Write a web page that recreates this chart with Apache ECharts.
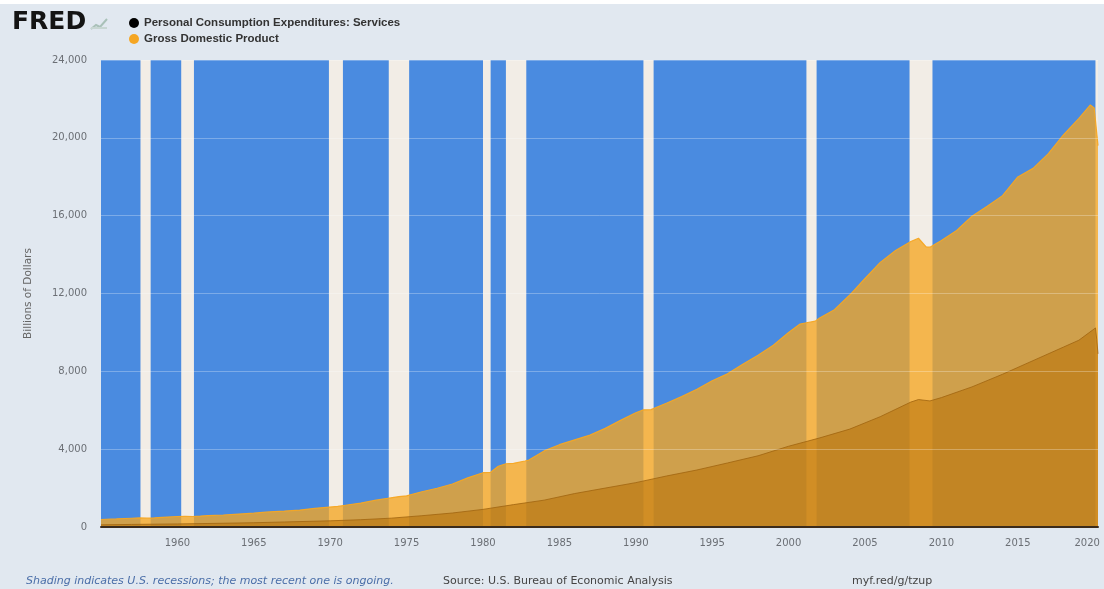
<!DOCTYPE html>
<html><head><meta charset="utf-8">
<script src="https://cdn.jsdelivr.net/npm/echarts@6/dist/echarts.min.js"></script>
<style>html,body{margin:0;padding:0;background:#e1e8f0;}#c{width:1104px;height:589px;}</style>
</head><body><div id="c"></div>
<script>
// ---- data (billions of dollars, SAAR) ----
const gdpDates = ['1955-01','1956-01','1957-01','1957-07','1958-01','1958-07','1959-01','1960-01','1960-07','1961-01','1961-07','1962-01','1963-01','1964-01','1965-01','1966-01','1967-01','1968-01','1969-01','1969-10','1970-07','1971-01','1972-01','1973-01','1973-10','1974-07','1975-01','1976-01','1977-01','1978-01','1979-01','1980-01','1980-07','1981-01','1981-07','1982-01','1982-10','1983-01','1984-01','1985-01','1986-01','1987-01','1988-01','1989-01','1990-01','1990-07','1991-01','1992-01','1993-01','1994-01','1995-01','1996-01','1997-01','1998-01','1999-01','2000-01','2000-10','2001-04','2001-10','2002-01','2003-01','2004-01','2005-01','2006-01','2007-01','2008-01','2008-07','2009-01','2009-04','2010-01','2011-01','2012-01','2013-01','2014-01','2015-01','2016-01','2017-01','2018-01','2019-01','2019-10','2020-01','2020-04'];
const gdpValues = [386,414,450,464,454,470,497,540,542,540,563,589,617,663,709,773,818,871,960,1013,1059,1118,1230,1378,1467,1565,1600,1810,1990,2210,2525,2790,2810,3120,3250,3270,3390,3440,3910,4230,4480,4720,5070,5480,5870,6020,6030,6360,6700,7080,7520,7870,8360,8830,9340,10000,10430,10510,10580,10730,11170,11920,12770,13600,14210,14670,14840,14400,14380,14720,15240,15970,16480,17030,17990,18430,19190,20160,21000,21690,21540,19600];

const pceDates = ['1955-01','1957-01','1960-01','1962-01','1965-01','1967-01','1970-01','1972-01','1974-01','1976-01','1978-01','1980-01','1982-01','1984-01','1986-01','1988-01','1990-01','1992-01','1994-01','1996-01','1998-01','2000-01','2002-01','2004-01','2006-01','2008-01','2008-07','2009-04','2010-01','2012-01','2014-01','2016-01','2018-01','2019-01','2020-02','2020-03','2020-04'];
const pceValues = [112,132,158,180,220,258,318,375,455,580,720,905,1150,1380,1720,2000,2280,2620,2930,3290,3660,4150,4570,5030,5670,6420,6550,6480,6650,7200,7850,8550,9250,9600,10230,9650,8900];

const recessionStarts = ['1957-08','1960-04','1969-12','1973-11','1980-01','1981-07','1990-07','2001-03','2007-12','2020-02'];
const recessionEnds   = ['1958-04','1961-02','1970-11','1975-03','1980-07','1982-11','1991-03','2001-11','2009-06','2020-04'];

const xTickYears = [1960,1965,1970,1975,1980,1985,1990,1995,2000,2005,2010,2015,2020];
const yTickValues = [0,4000,8000,12000,16000,20000,24000];

const seriesNames = ['Personal Consumption Expenditures: Services','Gross Domestic Product'];

// ---- helpers ----
function toYear(s){ const [y,m] = s.split('-').map(Number); return y + (m-1)/12; }
const gdpData = gdpDates.map((d,i)=>[toYear(d), gdpValues[i]]);
const pceData = pceDates.map((d,i)=>[toYear(d), pceValues[i]]);
const recessionAreas = recessionStarts.map((s,i)=>[{xAxis: toYear(s)},{xAxis: Math.min(toYear(recessionEnds[i]), 2020.25)}]);
const lastTick = xTickYears[xTickYears.length-1];

const chart = echarts.init(document.getElementById('c'), null, {renderer:'canvas'});
const F = 'DejaVu Sans';
chart.setOption({
  backgroundColor: '#e1e8f0',
  animation: false,
  grid: { left: 101, right: 6, top: 60, bottom: 62, show: true, backgroundColor: '#4a8be0', borderWidth: 0, outerBoundsMode: 'none', containLabel: false },
  legend: {
    data: seriesNames, orient: 'vertical', left: 124, top: 12, icon: 'circle',
    itemWidth: 10, itemHeight: 10, itemGap: 4,
    textStyle: { fontFamily: 'Liberation Sans', fontWeight: 'bold', fontSize: 11.5, color: '#333' },
    selectedMode: false
  },
  xAxis: {
    type: 'value', min: 1955, max: 2020.25, interval: 5, z: 10,
    axisLine: { show: true, lineStyle: { color: '#3b2b1b', width: 2 } },
    axisTick: { show: false },
    splitLine: { show: false },
    axisLabel: { showMinLabel: false, showMaxLabel: false, margin: 11, fontFamily: F, fontSize: 10, color: '#6b6f75',
      formatter: v => xTickYears.includes(v) ? (v === lastTick ? '{e|' + v + '}' : String(v)) : '',
      rich: { e: { fontFamily: F, fontSize: 10, color: '#6b6f75', padding: [0, 14, 0, 0] } } }
  },
  yAxis: {
    type: 'value', min: 0, max: 24000, interval: 4000, z: 10,
    name: 'Billions of Dollars', nameLocation: 'middle', nameGap: 67, nameRotate: 90,
    nameTextStyle: { fontFamily: F, fontSize: 10.5, color: '#666' },
    axisLine: { show: false }, axisTick: { show: false },
    axisLabel: { margin: 14, fontFamily: F, fontSize: 10, color: '#6b6f75',
      formatter: v => yTickValues.includes(v) ? v.toLocaleString('en-US') : '' },
    splitLine: { show: true, lineStyle: { color: 'rgba(255,255,255,0.28)', width: 1 } }
  },
  series: [
    { name: 'recessions', type: 'line', data: [[1955,0]], symbol: 'none', lineStyle: { opacity: 0 }, z: 1, silent: true,
      markArea: { silent: true, itemStyle: { color: '#f2ede6' }, data: recessionAreas } },
    { name: seriesNames[1], type: 'line', data: gdpData, symbol: 'none', showSymbol: false, z: 3,
      itemStyle: { color: '#f5a623' },
      lineStyle: { color: 'rgba(245,166,35,0.95)', width: 1.2 },
      areaStyle: { color: 'rgba(245,166,35,0.78)', opacity: 1 } },
    { name: seriesNames[0], type: 'line', data: pceData, symbol: 'none', showSymbol: false, z: 4,
      itemStyle: { color: '#000000' },
      lineStyle: { color: 'rgba(160,100,15,0.8)', width: 1 },
      areaStyle: { color: 'rgba(185,115,10,0.6)', opacity: 1 } }
  ],
  graphic: [
    { type: 'rect', left: 0, top: 0, shape: { width: 1104, height: 4 }, style: { fill: '#ffffff' } },
    { type: 'text', left: 12, top: 10, style: { text: 'FRED', font: 'bold 25px "DejaVu Sans"', fill: '#141414' } },
    { type: 'polyline', shape: { points: [[91,29],[96,25],[100,27],[107,19]] }, style: { stroke: '#a9c1b8', lineWidth: 2, fill: null } },
    { type: 'rect', shape: { x: 91, y: 27, width: 16, height: 2 }, style: { fill: '#c7d6d2' } },
    { type: 'text', left: 26, top: 576, style: { text: 'Shading indicates U.S. recessions; the most recent one is ongoing.', font: 'italic 11px "DejaVu Sans"', fill: '#4a6ea8' } },
    { type: 'text', left: 443, top: 576, style: { text: 'Source: U.S. Bureau of Economic Analysis', font: '11px "DejaVu Sans"', fill: '#444' } },
    { type: 'text', left: 852, top: 576, style: { text: 'myf.red/g/tzup', font: '11px "DejaVu Sans"', fill: '#444' } }
  ]
});
</script></body></html>
